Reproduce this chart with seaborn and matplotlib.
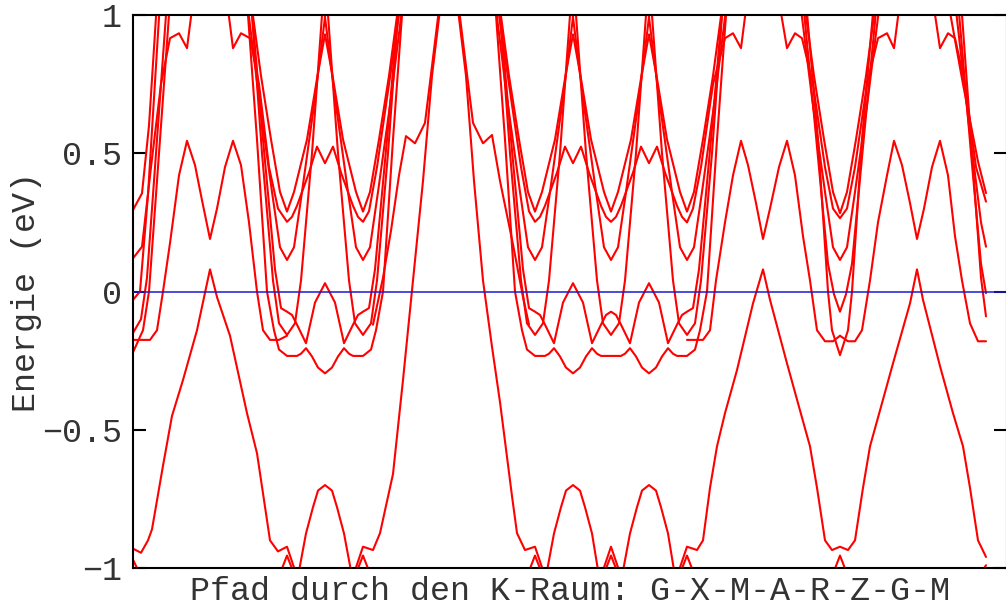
import numpy as np
import pandas as pd
import matplotlib
matplotlib.use("Agg")
import matplotlib.pyplot as plt
import seaborn as sns

# path coordinate (arbitrary units along G-X-M-A-R-Z-G-M), energy in eV
# lowest band, split where it leaves the frame
low_band = [
    [(0, -0.93), (8, -0.945), (15, -0.90), (19, -0.86), (30, -0.63), (39, -0.45), (50, -0.32), (64, -0.14),
     (77, 0.08), (84, -0.02), (97, -0.16), (114, -0.44), (124, -0.585), (130, -0.73), (137, -0.90),
     (145, -0.94), (154, -0.923), (164, -1.03)],
    [(220, -1.03), (230, -0.923), (240, -0.935), (247, -0.874), (260, -0.66), (270, -0.32), (280, 0.04),
     (290, 0.40), (299, 0.78), (308, 1.05)],
    [(324, 1.05), (333, 0.78), (341, 0.40), (350, 0.04), (359, -0.20), (367, -0.40), (379, -0.74),
     (384, -0.874), (392, -0.935), (402, -0.923), (412, -1.03)],
    [(468, -1.03), (478, -0.923), (488, -1.03)],
    [(544, -1.03), (554, -0.923), (564, -0.935), (570, -0.90), (577, -0.71), (584, -0.56), (592, -0.44),
     (604, -0.284), (620, -0.043), (630, 0.08), (637, -0.03), (654, -0.26), (667, -0.43), (677, -0.56),
     (684, -0.71), (692, -0.90), (699, -0.935), (707, -0.923), (715, -0.935), (722, -0.90), (730, -0.71),
     (737, -0.56), (747, -0.43), (760, -0.26), (777, -0.043), (784, 0.08), (790, -0.03), (807, -0.27),
     (820, -0.44), (830, -0.56), (837, -0.71), (845, -0.90), (853, -0.96)],
]

domes = [
    [(165, -1.03), (173, -0.875), (180, -0.78), (185, -0.72), (192, -0.70), (199, -0.72), (204, -0.78),
     (211, -0.875), (219, -1.03)],
    [(413, -1.03), (421, -0.875), (428, -0.78), (433, -0.72), (440, -0.70), (447, -0.72), (452, -0.78),
     (459, -0.875), (466, -1.03)],
    [(489, -1.03), (497, -0.875), (504, -0.78), (509, -0.72), (516, -0.70), (523, -0.72), (528, -0.78),
     (535, -0.875), (542, -1.03)],
]

caps = [
    [(0, -0.97), (8, -1.03)],
    [(146, -1.03), (154, -0.955), (162, -1.03)],
    [(222, -1.03), (230, -0.955), (238, -1.03)],
    [(394, -1.03), (402, -0.955), (410, -1.03)],
    [(470, -1.03), (478, -0.955), (486, -1.03)],
    [(546, -1.03), (554, -0.955), (562, -1.03)],
    [(699, -1.03), (707, -0.955), (715, -1.03)],
    [(846, -1.03), (853, -0.99)],
]

m_bands = [
    [(0, -0.175), (17, -0.175), (24, -0.14), (30, 0.0), (37, 0.175), (46, 0.42), (54, 0.545), (62, 0.457),
     (69, 0.33), (77, 0.19), (84, 0.30), (92, 0.45), (100, 0.545), (108, 0.457), (116, 0.25), (124, 0.0),
     (130, -0.14), (137, -0.175), (146, -0.175), (154, -0.16)],
    [(554, -0.175), (570, -0.175), (577, -0.14), (583, 0.04), (592, 0.25), (600, 0.42), (608, 0.545),
     (615, 0.457), (623, 0.32), (630, 0.19), (637, 0.30), (646, 0.45), (654, 0.545), (662, 0.42),
     (670, 0.20), (677, 0.04), (684, -0.14), (692, -0.18), (700, -0.18), (707, -0.16)],
    [(707, -0.16), (715, -0.18), (722, -0.18), (729, -0.14), (737, 0.04), (745, 0.25), (754, 0.42),
     (761, 0.545), (769, 0.457), (777, 0.32), (784, 0.19), (791, 0.30), (799, 0.45), (807, 0.545),
     (815, 0.42), (822, 0.20), (829, 0.04), (837, -0.115), (845, -0.18), (853, -0.18)],
]

zigzag_bands = [
    [(0, 0.12), (9, 0.162), (18, 0.45), (28, 0.75), (37, 0.916), (46, 0.934), (54, 0.88), (60, 1.05)],
    [(94, 1.05), (100, 0.88), (108, 0.934), (117, 0.916), (126, 0.75), (136, 0.45), (145, 0.30),
     (154, 0.252), (159, 0.27), (164, 0.31), (176, 0.43), (184, 0.524), (192, 0.464), (200, 0.524),
     (208, 0.43), (220, 0.31), (225, 0.27), (230, 0.252), (236, 0.29), (244, 0.45), (256, 0.75), (268, 1.05)],
    [(364, 1.05), (376, 0.75), (388, 0.45), (396, 0.29), (402, 0.252), (407, 0.27), (412, 0.31), (424, 0.43),
     (432, 0.524), (440, 0.464), (448, 0.524), (456, 0.43), (468, 0.31), (473, 0.27), (478, 0.252),
     (483, 0.27), (488, 0.31), (500, 0.43), (508, 0.524), (516, 0.464), (524, 0.524), (532, 0.43),
     (544, 0.31), (549, 0.27), (554, 0.25), (560, 0.30), (568, 0.45), (580, 0.75), (592, 0.916),
     (600, 0.934), (608, 0.88), (614, 1.05)],
    [(646, 1.05), (654, 0.88), (662, 0.934), (669, 0.916), (680, 0.75), (692, 0.45), (700, 0.30),
     (707, 0.265), (714, 0.30), (722, 0.45), (734, 0.75), (745, 0.916), (754, 0.934), (761, 0.88), (767, 1.05)],
    [(800, 1.05), (807, 0.88), (815, 0.934), (822, 0.916), (832, 0.75), (843, 0.45), (853, 0.325)],
]

w_bands = [
    [(0, 0.295), (9, 0.355), (16, 0.6), (24, 1.05)],
    [(118, 1.05), (128, 0.78), (138, 0.55), (147, 0.36), (154, 0.289), (161, 0.36), (174, 0.55), (184, 0.77),
     (192, 0.93), (200, 0.77), (210, 0.55), (223, 0.36), (230, 0.289), (237, 0.36), (246, 0.55), (256, 0.78),
     (266, 1.05)],
    [(366, 1.05), (376, 0.78), (386, 0.55), (395, 0.36), (402, 0.289), (409, 0.36), (422, 0.55), (432, 0.77),
     (440, 0.93), (448, 0.77), (458, 0.55), (471, 0.36), (478, 0.289), (485, 0.36), (498, 0.55), (508, 0.77),
     (516, 0.93), (524, 0.77), (534, 0.55), (547, 0.36), (554, 0.289), (561, 0.36), (570, 0.55), (580, 0.78),
     (590, 1.05)],
    [(671, 1.05), (681, 0.78), (691, 0.55), (700, 0.36), (707, 0.283), (714, 0.36), (723, 0.55), (733, 0.78),
     (743, 1.05)],
    [(815, 1.05), (830, 0.75), (845, 0.47), (853, 0.356)],
]

vee_bands = [
    # bottoms near 0.11 eV
    [(114, 1.05), (126, 0.70), (139, 0.36), (147, 0.16), (154, 0.114), (161, 0.16), (169, 0.36), (182, 0.70), (194, 1.05)],
    [(190, 1.05), (202, 0.70), (215, 0.36), (223, 0.16), (230, 0.114), (237, 0.16), (245, 0.36), (258, 0.70), (270, 1.05)],
    [(362, 1.05), (374, 0.70), (387, 0.36), (395, 0.16), (402, 0.114), (409, 0.16), (417, 0.36), (430, 0.70), (442, 1.05)],
    [(438, 1.05), (450, 0.70), (463, 0.36), (471, 0.16), (478, 0.114), (485, 0.16), (493, 0.36), (506, 0.70), (518, 1.05)],
    [(514, 1.05), (526, 0.70), (539, 0.36), (547, 0.16), (554, 0.114), (561, 0.16), (569, 0.36), (582, 0.70), (594, 1.05)],
    [(667, 1.05), (679, 0.70), (692, 0.36), (700, 0.16), (707, 0.114), (714, 0.16), (722, 0.36), (735, 0.70), (747, 1.05)],
    [(822, 1.05), (836, 0.6), (848, 0.25), (853, 0.162)],
    # bottoms near -0.16 eV
    [(118, 1.05), (129, 0.5), (140, 0.04), (146, -0.115), (154, -0.157), (162, -0.115), (168, 0.04), (179, 0.5), (190, 1.05)],
    [(194, 1.05), (205, 0.5), (216, 0.04), (222, -0.115), (230, -0.157), (238, -0.115), (244, 0.04), (255, 0.5), (266, 1.05)],
    [(366, 1.05), (377, 0.5), (388, 0.04), (394, -0.115), (402, -0.157), (410, -0.115), (416, 0.04), (427, 0.5), (438, 1.05)],
    [(442, 1.05), (453, 0.5), (464, 0.04), (470, -0.115), (478, -0.157), (486, -0.115), (492, 0.04), (503, 0.5), (514, 1.05)],
    [(518, 1.05), (529, 0.5), (540, 0.04), (546, -0.115), (554, -0.157), (562, -0.115), (568, 0.04), (579, 0.5), (590, 1.05)],
    # single vees at the second G point and the path ends
    [(670, 1.05), (682, 0.6), (695, 0.10), (701, -0.01), (707, -0.073), (713, -0.01), (719, 0.10), (732, 0.6), (744, 1.05)],
    [(673, 1.05), (685, 0.55), (695, 0.0), (699, -0.14), (707, -0.23), (715, -0.14), (719, 0.0), (729, 0.55), (741, 1.05)],
    [(0, -0.03), (7, 0.0), (15, 0.35), (27, 1.05)],
    [(0, -0.15), (8, -0.10), (14, 0.05), (24, 0.55), (34, 1.05)],
    [(0, -0.22), (10, -0.14), (16, 0.0), (26, 0.5), (37, 1.05)],
    [(825, 1.05), (838, 0.5), (848, 0.1), (853, -0.006)],
    [(828, 1.05), (840, 0.45), (848, 0.05), (853, -0.09)],
]

c_bands = [
    [(118, 1.05), (130, 0.55), (142, 0.08), (148, -0.06), (154, -0.073), (159, -0.085), (164, -0.12),
     (173, -0.187), (182, -0.04), (192, 0.03), (202, -0.04), (211, -0.187), (220, -0.12), (225, -0.085),
     (230, -0.073), (236, -0.06), (242, 0.08), (254, 0.55), (266, 1.05)],
    [(366, 1.05), (378, 0.55), (390, 0.08), (396, -0.06), (402, -0.073), (407, -0.085), (412, -0.12),
     (421, -0.187), (430, -0.04), (440, 0.03), (450, -0.04), (459, -0.187), (468, -0.12), (473, -0.085),
     (478, -0.073), (483, -0.085), (488, -0.12), (497, -0.187), (506, -0.04), (516, 0.03), (526, -0.04),
     (535, -0.187), (544, -0.12), (549, -0.085), (554, -0.073), (560, -0.06), (566, 0.08), (578, 0.55),
     (590, 1.05)],
    [(114, 1.05), (124, 0.55), (134, 0.0), (141, -0.14), (146, -0.21), (154, -0.233), (164, -0.233),
     (168, -0.225), (173, -0.205), (179, -0.235), (185, -0.275), (192, -0.296), (199, -0.275), (205, -0.235),
     (211, -0.205), (216, -0.225), (220, -0.233), (230, -0.233), (238, -0.21), (243, -0.14), (250, 0.0),
     (260, 0.55), (270, 1.05)],
    [(362, 1.05), (372, 0.55), (382, 0.0), (389, -0.14), (394, -0.21), (402, -0.233), (412, -0.233),
     (416, -0.225), (421, -0.205), (427, -0.235), (433, -0.275), (440, -0.296), (447, -0.275), (453, -0.235),
     (459, -0.205), (464, -0.225), (468, -0.233), (488, -0.233), (492, -0.225), (497, -0.205), (503, -0.235),
     (509, -0.275), (516, -0.296), (523, -0.275), (529, -0.235), (535, -0.205), (540, -0.225), (544, -0.233),
     (554, -0.233), (562, -0.21), (567, -0.14), (574, 0.0), (584, 0.55), (594, 1.05)],
]

kink_bands = [
    [(240, -0.12), (250, 0.05), (258, 0.22), (266, 0.42), (273, 0.562), (282, 0.536), (292, 0.61), (307, 1.05)],
    [(325, 1.05), (340, 0.61), (350, 0.536), (359, 0.566), (367, 0.40), (380, 0.17), (390, -0.02), (396, -0.12)],
]

y_ticks = [-1, -0.5, 0, 0.5, 1]
y_labels = ["\u22121", "\u22120.5", "0", "0.5", "1"]

groups = [low_band, domes, caps, m_bands, zigzag_bands, w_bands, vee_bands, c_bands, kink_bands]
rows = []
n = 0
for g in groups:
    for line in g:
        for k, e in line:
            rows.append((n, k, e))
        n += 1
df = pd.DataFrame(rows, columns=["band", "k", "E"])

sns.set_style("white")
plt.rcParams["font.family"] = ["Liberation Mono", "DejaVu Sans Mono"]

fig = plt.figure(figsize=(10.06, 6.08), dpi=100)
ax = fig.add_axes([133 / 1006, 40 / 608, 874 / 1006, 553 / 608])

sns.lineplot(data=df, x="k", y="E", units="band", estimator=None, sort=False,
             color="#ff0000", linewidth=1.5, legend=False, ax=ax)
ax.axhline(0, color="#1a1ad0", linewidth=1.1, zorder=3)

ax.set_xlim(0, 874)
ax.set_ylim(-1, 1)
ax.set_xticks([])
ax.set_yticks(y_ticks)
ax.set_yticklabels(y_labels, fontsize=24, color="#333333")
ax.tick_params(axis="y", direction="in", length=9.5, width=1.5, pad=8,
               left=True, right=True, colors="black", labelcolor="#333333")
for s in ax.spines.values():
    s.set_linewidth(1.5)
    s.set_color("black")

ax.set_ylabel("Energie (eV)", fontsize=24, color="#333333")
ax.yaxis.set_label_coords(-0.104, 0.5)
ax.set_xlabel("Pfad durch den K-Raum: G-X-M-A-R-Z-G-M", fontsize=24, color="#333333", labelpad=6)

fig.savefig("out.png", dpi=100)
